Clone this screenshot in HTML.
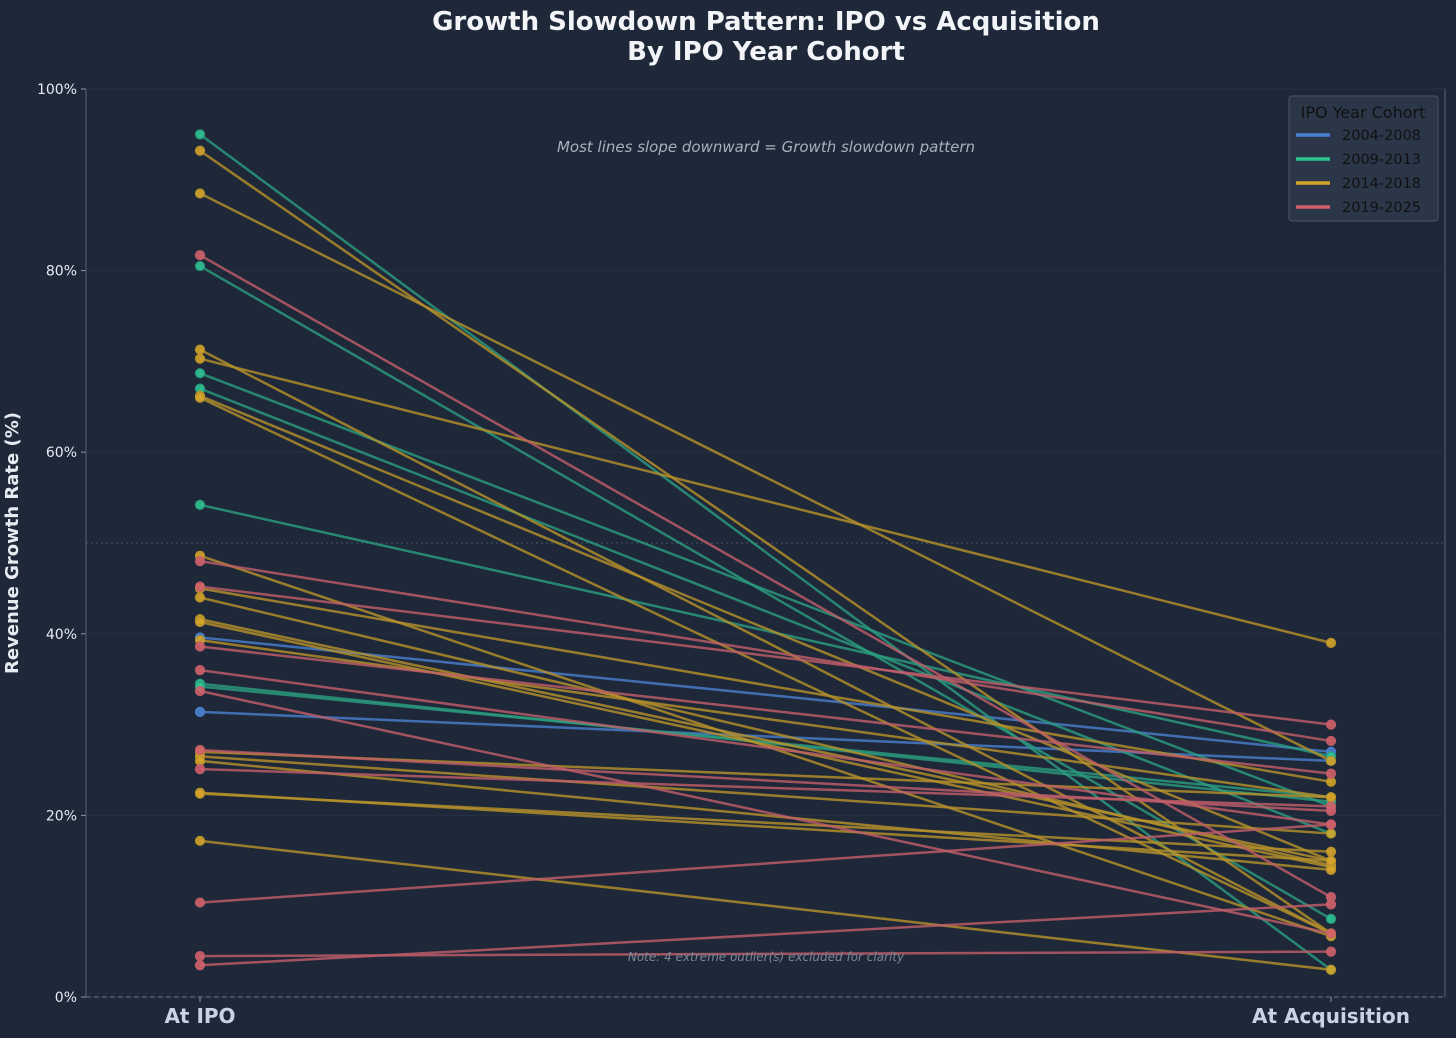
<!DOCTYPE html>
<html><head><meta charset="utf-8"><style>
body{margin:0;background:#1e2839;}
svg{display:block;font-family:"DejaVu Sans","Liberation Sans",sans-serif;}
</style></head><body>
<svg id="chart" width="1456" height="1038">
<rect width="1456" height="1038" fill="#1e2839"/>
<text x="766" y="30" text-anchor="middle" font-size="26" font-weight="bold" fill="#f2f4f8">Growth Slowdown Pattern: IPO vs Acquisition</text>
<text x="766" y="60" text-anchor="middle" font-size="26" font-weight="bold" fill="#f2f4f8">By IPO Year Cohort</text>
<rect x="86" y="89" width="1359" height="908" fill="none" stroke="#5a6478" stroke-width="1"/>
<g id="grid"></g>
<g id="lines"></g>
<g id="dots"></g>
<text x="18" y="543" transform="rotate(-90 18 543)" text-anchor="middle" font-size="18" font-weight="bold" fill="#e6ebf2">Revenue Growth Rate (%)</text>
<text x="200" y="1023" text-anchor="middle" font-size="20" font-weight="bold" fill="#c8d4e6">At IPO</text>
<text x="1331" y="1023" text-anchor="middle" font-size="20" font-weight="bold" fill="#c8d4e6">At Acquisition</text>
<text x="766" y="152" text-anchor="middle" font-size="15" font-style="italic" fill="#a8b0bc">Most lines slope downward = Growth slowdown pattern</text>
<text x="766" y="961" text-anchor="middle" font-size="12" font-style="italic" fill="#7d8696">Note: 4 extreme outlier(s) excluded for clarity</text>
<g>
<rect x="1289" y="96" width="149" height="125" rx="3" fill="#2b3649" stroke="#4a5568"/>
<text x="1363" y="118" text-anchor="middle" font-size="16" fill="#111">IPO Year Cohort</text>
<g id="legend-items"></g>
</g>
</svg>
<script>
const cohortNames = ["2004-2008","2009-2013","2014-2018","2019-2025"];
const cohortLine = ["#4a80d0","#2a9d7f","#b8922a","#c25e6a"];
const ipoValues = [39.6,31.4, 95,80.5,68.7,67,54.2,34.5,34.2, 93.2,88.5,71.3,70.3,66.2,66,48.6,44,41.6,41.3,39.3,27,26.5,26,22.5,22.4,17.2,45, 81.7,48,45.2,38.6,36,33.7,27.2,25.1,10.4,4.5,3.5];
const acqValues = [27,26, 3,8.6,21,18,26.5,21.5,22, 7,26,7,39,15,7,6.7,14.5,15,14.3,22,22,18,14,15,16,3,23.7, 11,28.2,30,24.6,19,7,20.5,21,19,5,10.2];
const cohorts = [0,0, 1,1,1,1,1,1,1, 2,2,2,2,2,2,2,2,2,2,2,2,2,2,2,2,2,2, 3,3,3,3,3,3,3,3,3,3,3];
const dotColors = ["#4a80d0","#2ec492","#d4a32a","#d0606a"];
const yTicks = [0,20,40,60,80,100];

const NS="http://www.w3.org/2000/svg";
const X0=200,X1=1331;
function yScale(v){return 997-v*9.08;}
function mk(tag,attrs,parent){const e=document.createElementNS(NS,tag);for(const k in attrs)e.setAttribute(k,attrs[k]);parent.appendChild(e);return e;}
const grid=document.getElementById('grid');
yTicks.forEach(t=>{
  const y=yScale(t);
  const g=mk('line',{x1:86,x2:1445,y1:y,y2:y,stroke:'#253043','stroke-width':1},grid);
  
  
  const tk=mk('line',{x1:81,x2:86,y1:y,y2:y,stroke:'#8a94a6'},grid);
  
  
  const tx=mk('text',{x:77,y:y+5,'text-anchor':'end','font-size':14,fill:'#e6ebf2'},grid);
  tx.textContent=t+'%';
  
  
});
const mid=mk('line',{x1:86,x2:1445,y1:yScale(50),y2:yScale(50),stroke:'#4a5568','stroke-dasharray':'2,3'},grid);


const base=mk('line',{x1:86,x2:1445,y1:yScale(0),y2:yScale(0),stroke:'#6a7488','stroke-dasharray':'5,3'},grid);


[X0,X1].forEach(x=>{const t=mk('line',{x1:x,x2:x,y1:997,y2:1002,stroke:'#8a94a6'},grid);

});
const L=document.getElementById('lines'),D=document.getElementById('dots');
ipoValues.forEach((v,i)=>{
  const c=cohorts[i];
  const ln=mk('line',{x1:X0,y1:yScale(v),x2:X1,y2:yScale(acqValues[i]),stroke:cohortLine[c],'stroke-width':2.5,'stroke-opacity':0.8},L);
  
  
  [[X0,v],[X1,acqValues[i]]].forEach(p=>{
    const d=mk('circle',{cx:p[0],cy:yScale(p[1]),r:4.5,fill:dotColors[c],stroke:cohortLine[c],'stroke-width':1.2,'fill-opacity':0.9},D);
    
    
  });
});
const LI=document.getElementById('legend-items');
cohortNames.forEach((n,i)=>{
  const y=135+i*24;
  const l=mk('line',{x1:1296,x2:1330,y1:y,y2:y,stroke:dotColors[i],'stroke-width':3.5},LI);
  
  
  const t=mk('text',{x:1342,y:y+5,'font-size':14.5,fill:'#111'},LI);
  t.textContent=n;
  
  
});
</script>
</body></html>
